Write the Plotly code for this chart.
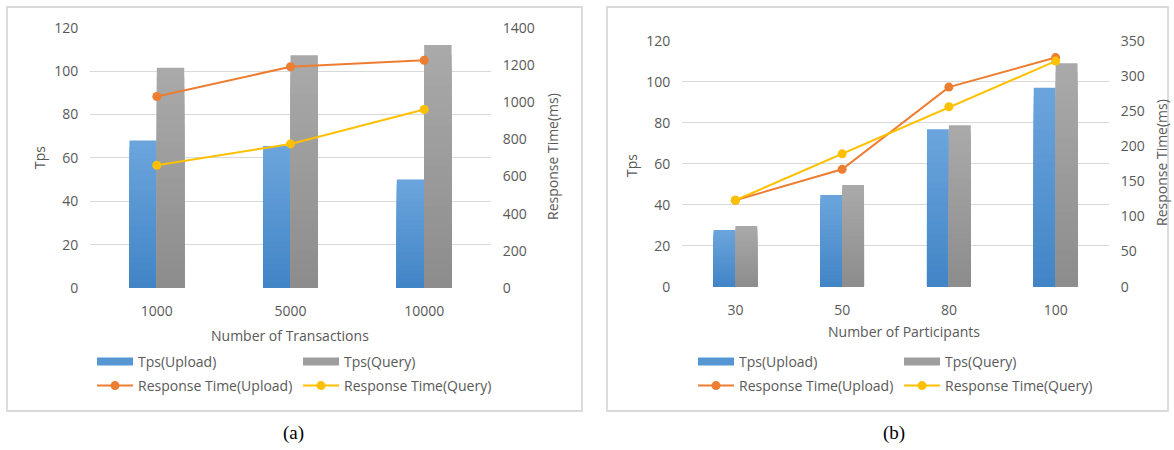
import plotly.graph_objects as go

W, H = 1174, 450

# (a) throughput / response time vs. number of transactions
tx_labels = ["1000", "5000", "10000"]
tx_tps_upload = [68, 65.5, 50]
tx_tps_query = [101.5, 107.3, 112]
tx_rt_upload = [1030, 1190, 1225]
tx_rt_query = [660, 775, 960]

# (b) throughput / response time vs. number of participants
pt_labels = ["30", "50", "80", "100"]
pt_tps_upload = [27.7, 44.7, 76.8, 97]
pt_tps_query = [29.6, 49.6, 78.7, 109]
pt_rt_upload = [123, 167, 284, 326]
pt_rt_query = [123, 189, 256, 321]

tps_ticks = [0, 20, 40, 60, 80, 100, 120]
rt_ticks_a = list(range(0, 1401, 200))
rt_ticks_b = list(range(0, 351, 50))

# bar fills shade from a lighter top to a darker bottom
BLUE_TOP, BLUE_BOTTOM = (108, 165, 220), (65, 132, 198)
GRAY_TOP, GRAY_BOTTOM = (170, 170, 170), (140, 140, 140)
BLUE = "#5596d3"
GRAY = "#9e9e9e"
ORANGE = "#ed7d31"
YELLOW = "#ffc000"
TEXT = "#595959"
GRID = "#d9d9d9"
FONT = "Open Sans"
N_SHADES = 24


def px(x):
    return x / W


def py(y):
    return 1 - y / H


def shade(top, bottom, t):
    r, g, b = (round(bottom[i] + (top[i] - bottom[i]) * t) for i in range(3))
    return f"rgb({r},{g},{b})"


fig = go.Figure()


def add_gradient_bars(cats, values, top, bottom, group, xa, ya, legendgroup):
    # nested bars from the baseline: full height first (lightest), then shorter
    # and darker ones on top, giving each bar a vertical shading without seams
    for k in range(N_SHADES, 0, -1):
        fig.add_trace(go.Bar(
            x=cats,
            y=[v * k / N_SHADES for v in values],
            offsetgroup=group,
            marker=dict(color=shade(top, bottom, (k - 0.5) / N_SHADES), line=dict(width=0)),
            xaxis=xa, yaxis=ya, showlegend=False, legendgroup=legendgroup,
            hoverinfo="skip",
        ))


def add_panel(cats, up, qu, rtu, rtq, xa, ya, ya2, leg_bar, leg_line):
    add_gradient_bars(cats, up, BLUE_TOP, BLUE_BOTTOM, "a_upload", xa, ya, leg_bar + "u")
    add_gradient_bars(cats, qu, GRAY_TOP, GRAY_BOTTOM, "b_query", xa, ya, leg_bar + "q")
    # wide flat swatches for the bar series in the legend
    fig.add_trace(go.Scatter(x=[None], y=[None], mode="lines", name="Tps(Upload)",
                             line=dict(color=BLUE, width=8), xaxis=xa, yaxis=ya,
                             legend=leg_bar, legendgroup=leg_bar + "u"))
    fig.add_trace(go.Scatter(x=[None], y=[None], mode="lines", name="Tps(Query)",
                             line=dict(color=GRAY, width=8), xaxis=xa, yaxis=ya,
                             legend=leg_bar, legendgroup=leg_bar + "q"))
    fig.add_trace(go.Scatter(x=cats, y=rtu, mode="lines+markers", name="Response Time(Upload)",
                             line=dict(color=ORANGE, width=2), marker=dict(size=9, color=ORANGE),
                             xaxis=xa, yaxis=ya2, legend=leg_line))
    fig.add_trace(go.Scatter(x=cats, y=rtq, mode="lines+markers", name="Response Time(Query)",
                             line=dict(color=YELLOW, width=2), marker=dict(size=9, color=YELLOW),
                             xaxis=xa, yaxis=ya2, legend=leg_line))


add_panel(tx_labels, tx_tps_upload, tx_tps_query, tx_rt_upload, tx_rt_query,
          "x", "y", "y2", "legend", "legend2")
add_panel(pt_labels, pt_tps_upload, pt_tps_query, pt_rt_upload, pt_rt_query,
          "x2", "y3", "y4", "legend3", "legend4")

tick_font = dict(family=FONT, size=14, color=TEXT)
hidden_tick = dict(ticks="outside", tickcolor="rgba(0,0,0,0)")

xcommon = dict(showgrid=False, showline=False, zeroline=False, tickfont=tick_font,
               ticklen=10, **hidden_tick)
ycommon = dict(showline=False, zeroline=False, tickfont=tick_font, ticklen=8, **hidden_tick)

legend_common = dict(orientation="h", font=dict(family=FONT, size=14, color=TEXT),
                     bgcolor="rgba(0,0,0,0)", itemwidth=36, entrywidth=155,
                     xanchor="left", yanchor="middle", tracegroupgap=0)

fig.update_layout(
    width=W, height=H,
    margin=dict(l=0, r=0, t=0, b=0, autoexpand=False),
    paper_bgcolor="white", plot_bgcolor="white",
    barmode="group", bargap=0.59, bargroupgap=0,
    xaxis=dict(domain=[px(90), px(491)], anchor="y", **xcommon),
    yaxis=dict(domain=[py(288), py(27.7)], range=[0, 120], tickvals=tps_ticks,
               showgrid=True, gridcolor=GRID, gridwidth=1.2, anchor="x", **ycommon),
    yaxis2=dict(range=[0, 1400], tickvals=rt_ticks_a, overlaying="y", side="right",
                anchor="x", showgrid=False, **ycommon),
    xaxis2=dict(domain=[px(682), px(1109)], anchor="y3", **xcommon),
    yaxis3=dict(domain=[py(286.7), py(40.7)], range=[0, 120], tickvals=tps_ticks,
                showgrid=True, gridcolor=GRID, gridwidth=1.2, anchor="x2", **ycommon),
    yaxis4=dict(range=[0, 350], tickvals=rt_ticks_b, overlaying="y3", side="right",
                anchor="x2", showgrid=False, **ycommon),
    legend=dict(x=px(92), y=py(362), **legend_common),
    legend2=dict(x=px(92), y=py(386), **legend_common),
    legend3=dict(x=px(693), y=py(362), **legend_common),
    legend4=dict(x=px(693), y=py(386), **legend_common),
)

# panel frames
for x0, x1 in [(7, 582), (607, 1168)]:
    fig.add_shape(type="rect", xref="paper", yref="paper",
                  x0=px(x0), x1=px(x1), y0=py(411), y1=py(7),
                  line=dict(color=GRID, width=1.8), fillcolor="rgba(0,0,0,0)", layer="below")

title_font = dict(family=FONT, size=14, color=TEXT)
texts = [
    ("Tps", 39, 158, -90, title_font),
    ("Response Time(ms)", 552, 157, -90, title_font),
    ("Number of Transactions", 290, 335, 0, title_font),
    ("Tps", 632, 166, -90, title_font),
    ("Response Time(ms)", 1161, 163, -90, title_font),
    ("Number of Participants", 904, 331, 0, title_font),
    ("(a)", 294, 433, 0, dict(family="Liberation Serif", size=19, color="#000000")),
    ("(b)", 894, 433, 0, dict(family="Liberation Serif", size=19, color="#000000")),
]
for t, x, y, ang, f in texts:
    fig.add_annotation(text=t, xref="paper", yref="paper", x=px(x), y=py(y),
                       xanchor="center", yanchor="middle", textangle=ang,
                       showarrow=False, font=f)

fig.write_html("out.html")
